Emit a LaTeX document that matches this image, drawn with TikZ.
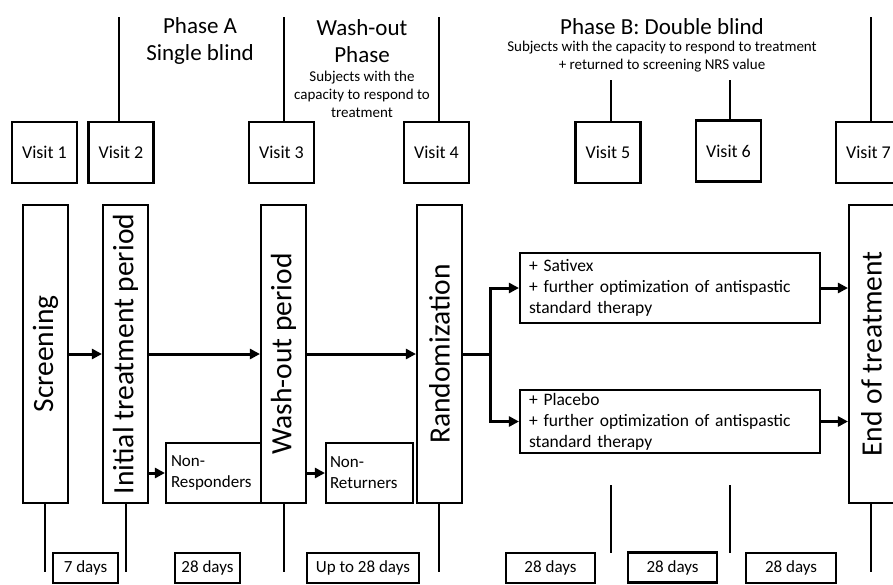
\documentclass[tikz,border=0pt]{standalone}
\usepackage{fontspec}
\setmainfont{Carlito}
\usetikzlibrary{arrows.meta}
\begin{document}
\begin{tikzpicture}[x=1pt,y=-1pt,
  bx/.style={draw, line width=2.1pt, inner sep=0pt},
  visit/.style={bx, minimum width=65pt, minimum height=61pt, font=\fontsize{18}{21}\selectfont},
  tall/.style={bx, minimum width=45pt, minimum height=298pt, font=\fontsize{29.5}{33}\selectfont},
  arr/.style={line width=3pt, -{Triangle[length=10pt,width=10pt]}},
  plain/.style={line width=3pt},
  tl/.style={line width=1.7pt},
  dbox/.style={bx, minimum height=30pt, font=\fontsize{17}{20}\selectfont},
  side/.style={bx, minimum height=60pt, align=left, font=\fontsize{17}{21}\selectfont},
  arm/.style={bx, minimum width=300pt, text width=282pt, align=left, font=\fontsize{17.5}{21}\selectfont},
  big/.style={align=center, font=\fontsize{23}{27}\selectfont},
  small/.style={align=center, font=\fontsize{15}{18}\selectfont}]
\useasboundingbox (0,0) rectangle (893,584);

% headings
\node[big] (pa) at (200,41) {Phase A\\Single blind};
\node[big] (wo) at (362,41) {Wash-out\\Phase};
\node[small] (wos) at (362,94) {Subjects with the\\capacity to respond to\\treatment};
\node[big] (pb) at (662,27) {Phase B: Double blind};
\node[small] (pbs) at (662,57) {Subjects with the capacity to respond to treatment\\+ returned to screening NRS value};

% visits
\node[visit] (v1) at (44.5,152.5) {Visit 1};
\node[visit] (v2) at (121,152.5) {Visit 2};
\node[visit] (v3) at (281.5,152.5) {Visit 3};
\node[visit] (v4) at (436.5,152.5) {Visit 4};
\node[visit] (v5) at (608,152.5) {Visit 5};
\node[visit] (v6) at (728.5,151) {Visit 6};
\node[visit] (v7) at (868.5,152.5) {Visit 7};

\coordinate (t2) at (119,17);
\coordinate (t3) at (284,17);
\coordinate (t4) at (439,17);
\coordinate (t5) at (611,80);
\coordinate (t6) at (730,80);
\coordinate (t7) at (871,17);
\draw[tl] (t2) -- (t2 |- v2.north);
\draw[tl] (t3) -- (t3 |- v3.north);
\draw[tl] (t4) -- (t4 |- v4.north);
\draw[tl] (t5) -- (t5 |- v5.north);
\draw[tl] (t6) -- (t6 |- v6.north);
\draw[tl] (t7) -- (t7 |- v7.north);

% tall boxes
\node[tall] (scr) at (45.5,354) {\rotatebox{90}{Screening}};
\node[tall] (init) at (125.5,354) {\rotatebox{90}{Initial treatment period}};
\node[tall] (wash) at (283.5,354) {\rotatebox{90}{Wash-out period}};
\node[tall] (rand) at (439.5,354) {\rotatebox{90}{Randomization}};
\node[tall] (end) at (871.5,354) {\rotatebox{90}{End of treatment}};

% side boxes
\node[side, minimum width=95pt, text width=85pt] (nr) at (213.5,473) {Non-\\Responders};
\node[side, minimum width=87pt, text width=79pt] (nt) at (369.5,473) {Non-\\Returners};

% arms
\node[arm, minimum height=70pt] (sat) at (670,288) {+ Sativex\\+ further optimization of antispastic\\standard therapy};
\node[arm, minimum height=63pt] (pla) at (670,421.5) {+ Placebo\\+ further optimization of antispastic\\standard therapy};

% arrows
\draw[arr] (scr.east) -- (init.west);
\draw[arr] (init.east) -- (wash.west);
\draw[arr] (wash.east) -- (rand.west);
\draw[arr] (init.east |- nr.west) -- (nr.west);
\draw[arr] (wash.east |- nt.west) -- (nt.west);
\coordinate (br) at (490,354);
\draw[plain] (rand.east) -- (br);
\draw[arr] (br) |- (sat.west);
\draw[arr] (br) |- (pla.west);
\draw[arr] (sat.east) -- (sat.east -| end.west);
\draw[arr] (pla.east) -- (pla.east -| end.west);

% bottom lines
\coordinate (b1) at (45,572);
\coordinate (b2) at (126,572);
\coordinate (b3) at (284,572);
\coordinate (b4) at (439,572);
\coordinate (b7) at (871,572);
\draw[tl] (scr.south -| b1) -- (b1);
\draw[tl] (init.south -| b2) -- (b2);
\draw[tl] (wash.south -| b3) -- (b3);
\draw[tl] (rand.south -| b4) -- (b4);
\draw[tl] (end.south -| b7) -- (b7);
\coordinate (m5a) at (611,485);
\coordinate (m5b) at (611,553);
\coordinate (m6a) at (730,485);
\coordinate (m6b) at (730,553);
\draw[tl] (m5a) -- (m5b);
\draw[tl] (m6a) -- (m6b);

% day boxes
\node[dbox, minimum width=65pt] (d1) at (85.5,568) {7 days};
\node[dbox, minimum width=65pt] (d2) at (207.5,568) {28 days};
\node[dbox, minimum width=112pt] (d3) at (363,568) {Up to 28 days};
\node[dbox, minimum width=89pt] (d4) at (550.5,568) {28 days};
\node[dbox, minimum width=89pt] (d5) at (672.5,567.5) {28 days};
\node[dbox, minimum width=90pt] (d6) at (791,568) {28 days};
\end{tikzpicture}
\end{document}
